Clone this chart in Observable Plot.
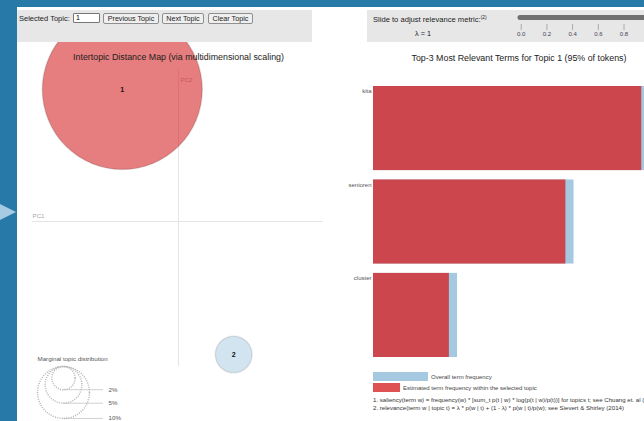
<!DOCTYPE html>
<html><head><meta charset="utf-8">
<script src="https://cdn.jsdelivr.net/npm/d3@7"></script>
<script src="https://cdn.jsdelivr.net/npm/@observablehq/plot@0.6"></script>
<style>
html,body{margin:0;padding:0;width:644px;height:421px;overflow:hidden;background:#2779a8;font-family:"Liberation Sans",Arial,sans-serif;}
#page{position:absolute;left:17px;top:7px;width:627px;height:414px;background:#fff;}
.abs{position:absolute;}
.t{position:absolute;white-space:nowrap;line-height:1;color:#222;}
.hdr{position:absolute;top:10px;height:32px;background:#e7e7e7;}
#hl{left:17px;width:295px;}
#hr{left:367px;width:277px;}
.btn{position:absolute;top:13px;height:11px;box-sizing:border-box;border:1px solid #8f8f8f;background:#efefef;border-radius:2px;font:7.2px "Liberation Sans",Arial,sans-serif;color:#222;padding:0;margin:0;text-align:center;line-height:9px;}
#inp{position:absolute;left:73px;top:13px;width:27px;height:10px;box-sizing:border-box;border:1px solid #767676;border-radius:1px;background:#fff;font:7px "Liberation Sans",Arial,sans-serif;padding:0 2px;line-height:8px;color:#000;}
#arrow{position:absolute;left:0;top:204px;width:0;height:0;border-left:16px solid #a6cbe3;border-top:8.5px solid transparent;border-bottom:8.5px solid transparent;}
#leftPlot,#rightPlot,#legendPlot,#sliderPlot{position:absolute;}
#leftPlot{left:17px;top:10px;width:323px;}
#rightPlot{left:330px;top:42px;width:314px;}
#legendPlot{left:17px;top:355px;width:110px;}
#sliderPlot{left:505px;top:10px;width:160px;}
</style></head>
<body>
<div id="page"></div>
<div id="arrow"></div>
<div id="leftPlot"></div>
<div id="rightPlot"></div>
<div id="legendPlot"></div>
<div class="hdr" id="hl"></div>
<div class="hdr" id="hr"></div>
<div id="sliderPlot"></div>
<div class="t" style="left:19px;top:14.5px;font-size:7.5px;">Selected Topic:</div>
<div id="inp">1</div>
<div class="btn" style="left:103px;width:56px;">Previous Topic</div>
<div class="btn" style="left:162px;width:42px;">Next Topic</div>
<div class="btn" style="left:208px;width:45px;">Clear Topic</div>
<div class="t" style="left:373px;top:16.2px;font-size:7.6px;">Slide to adjust relevance metric:<sup style="font-size:4.8px;vertical-align:3px;">(2)</sup></div>
<div class="t" style="left:415px;top:29.5px;font-size:7.3px;">λ = 1</div>
<div class="t" style="left:17px;width:323px;text-align:center;top:52.8px;font-size:8.85px;">Intertopic Distance Map (via multidimensional scaling)</div>
<div class="t" style="left:394px;width:250px;text-align:center;top:53.5px;font-size:8.85px;">Top-3 Most Relevant Terms for Topic 1 (95% of tokens)</div>
<div class="abs" style="left:373px;top:372px;width:55px;height:9px;background:#a5c9e1;"></div>
<div class="t" style="left:431px;top:373.5px;font-size:6px;color:#444;">Overall term frequency</div>
<div class="abs" style="left:373px;top:383px;width:27px;height:9px;background:#de5253;"></div>
<div class="t" style="left:403px;top:384.5px;font-size:6px;color:#444;">Estimated term frequency within the selected topic</div>
<div class="t" style="left:373px;top:397px;font-size:6.1px;color:#333;">1. saliency(term w) = frequency(w) * [sum_t p(t | w) * log(p(t | w)/p(t))] for topics t; see Chuang et. al (2012)</div>
<div class="t" style="left:373px;top:405.2px;font-size:6.1px;color:#333;">2. relevance(term w | topic t) = λ * p(w | t) + (1 - λ) * p(w | t)/p(w); see Sievert &amp; Shirley (2014)</div>
<script>
// ---- data ----
const topicIds = ["1", "2"];
const topicPC1 = [-0.056, 0.055];
const topicPC2 = [0.132, -0.133];
const topicShare = [95, 5];          // % of tokens
const selectedTopic = "1";

const terms = ["kita", "senioren", "cluster"];
const termTotal = [100, 74, 31];     // overall term frequency
const termTopic = [99, 71, 28];      // estimated frequency within topic 1

const legendShares = [2, 5, 10];     // marginal topic distribution legend
const lambdaTicks = [0, 0.2, 0.4, 0.6, 0.8];

const FONT = "Liberation Sans, Arial, sans-serif";
const rOpts = {type: "sqrt", domain: [0, 95], range: [0, 80]};

// ---- intertopic distance map ----
const topics = topicIds.map((id, i) => ({id, x: topicPC1[i], y: topicPC2[i], share: topicShare[i]}));
const left = Plot.plot({
  width: 323, height: 411,
  marginLeft: 15, marginRight: 17, marginTop: 60, marginBottom: 55,
  x: {domain: [-0.1455, 0.1445], axis: null},
  y: {domain: [-0.145, 0.151], axis: null},
  r: rOpts,
  style: {fontFamily: FONT, background: "transparent", overflow: "hidden", maxWidth: "none"},
  marks: [
    Plot.ruleY([0], {stroke: "#e4e4e4"}),
    Plot.ruleX([0], {stroke: "#e4e4e4"}),
    Plot.text(["PC1"], {y: () => 0, frameAnchor: "left", textAnchor: "start", dy: -5, fill: "#aaa", fontSize: 6.2}),
    Plot.text(["PC2"], {x: () => 0, frameAnchor: "top", textAnchor: "start", dx: 2, dy: 7, fill: "#aaa", fontSize: 6.2}),
    Plot.dot(topics.filter(d => d.id !== selectedTopic), {x: "x", y: "y", r: "share", fill: "#1f77b4", fillOpacity: 0.2, stroke: "#000", strokeOpacity: 0.1}),
    Plot.dot(topics.filter(d => d.id === selectedTopic), {x: "x", y: "y", r: "share", fill: "#d62728", fillOpacity: 0.6, stroke: "#000", strokeOpacity: 0.12}),
    Plot.text(topics, {x: "x", y: "y", text: "id", fontWeight: "bold", fontSize: 7, fill: "#111"})
  ]
});
document.getElementById("leftPlot").append(left);

// ---- marginal topic distribution legend ----
const rS = left.scale("r");
const legend = Plot.plot({
  width: 110, height: 66, margin: 0,
  x: {type: "identity", axis: null},
  y: {type: "identity", axis: null},
  r: rOpts,
  style: {fontFamily: FONT, background: "transparent", overflow: "visible", maxWidth: "none"},
  marks: [
    Plot.text(["Marginal topic distribution"], {x: () => 20, y: () => 4, textAnchor: "start", fontSize: 6.2, fill: "#555"}),
    Plot.ruleY(legendShares, {y: d => 11 + 2 * rS.apply(d), x1: () => 46, x2: () => 86, stroke: "#d0d0d0"}),
    Plot.dot(legendShares, {x: () => 46, y: d => 11 + rS.apply(d), r: d => d, stroke: "#b5b5b5", strokeDasharray: "1,1.3", fill: "none"}),
    Plot.text(legendShares, {x: () => 91, y: d => 11 + 2 * rS.apply(d), text: d => d + "%", textAnchor: "start", fontSize: 6.2, fill: "#555"})
  ]
});
document.getElementById("legendPlot").append(legend);

// ---- bar chart ----
const bars = terms.map((t, i) => ({term: t, total: termTotal[i], topic: termTopic[i]}));
const right = Plot.plot({
  width: 314, height: 379,
  marginLeft: 43, marginRight: 0, marginTop: 44, marginBottom: 64,
  x: {domain: [0, d3.max(termTotal)], axis: null},
  y: {domain: terms, paddingInner: 0.1, paddingOuter: 0, round: false, axis: null},
  style: {fontFamily: FONT, background: "transparent", maxWidth: "none"},
  marks: [
    Plot.barX(bars, {y: "term", x1: () => 0, x2: "total", fill: "#1f77b4", fillOpacity: 0.4}),
    Plot.barX(bars, {y: "term", x1: () => 0, x2: "topic", fill: "#d62728", fillOpacity: 0.8}),
    Plot.text(bars, {y: "term", x: () => 0, text: "term", textAnchor: "end", dx: -2, dy: -37, fontSize: 6, fill: "#555"})
  ]
});
document.getElementById("rightPlot").append(right);

// ---- lambda slider ----
const slider = Plot.plot({
  width: 160, height: 32,
  marginLeft: 15.7, marginRight: 15.8, marginTop: 5, marginBottom: 22,
  x: {domain: [0, 1]},
  style: {fontFamily: FONT, background: "transparent", fontSize: "6px", overflow: "hidden", maxWidth: "none"},
  marks: [
    Plot.rect([0], {x1: () => -0.025, x2: () => 1.2, fill: "#707070", rx: 2.5}),
    Plot.axisX({ticks: lambdaTicks, anchor: "bottom", dy: 4, tickSize: 6, tickPadding: 1.5, tickFormat: d3.format(".1f"), stroke: "#aaa", fill: "#445", label: null})
  ]
});
document.getElementById("sliderPlot").append(slider);
</script>
</body></html>
